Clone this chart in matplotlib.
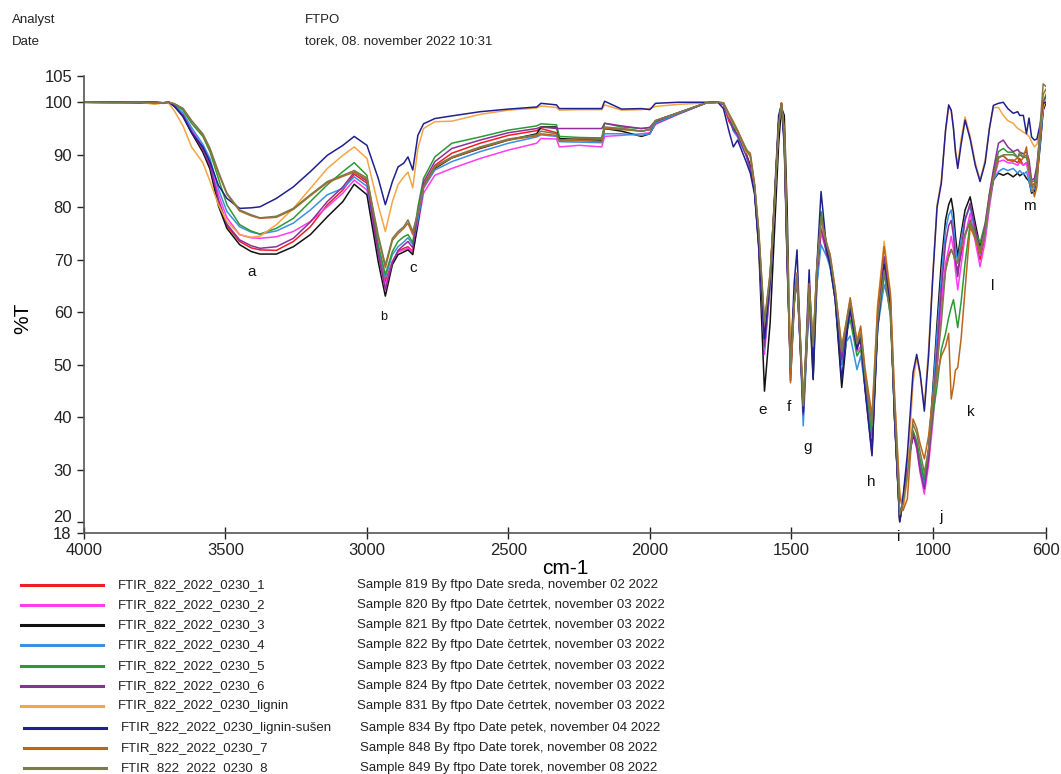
import matplotlib
matplotlib.use("Agg")
import matplotlib.pyplot as plt
from matplotlib.lines import Line2D
from matplotlib.transforms import ScaledTranslation

plt.rcParams['font.family'] = ['Liberation Sans', 'DejaVu Sans']

# ---------------- data ----------------
wavenumber = [
    4000, 3900, 3800, 3750, 3720, 3700, 3680, 3650, 3620, 3580,
    3555, 3525, 3495, 3450, 3410, 3378, 3320, 3260, 3200, 3140,
    3085, 3045, 3000, 2960, 2935, 2910, 2890, 2870, 2855, 2838,
    2820, 2800, 2760, 2700, 2600, 2500, 2400, 2385, 2330, 2320,
    2250, 2170, 2160, 2100, 2030, 2000, 1980, 1900, 1800, 1760,
    1740, 1720, 1705, 1690, 1660, 1645, 1630, 1615, 1595, 1575,
    1560, 1545, 1535, 1525, 1515, 1503, 1490, 1480, 1468, 1458,
    1448, 1437, 1423, 1410, 1395, 1375, 1363, 1345, 1322, 1305,
    1292, 1268, 1255, 1240, 1215, 1195, 1172, 1150, 1135, 1117,
    1105, 1090, 1070, 1057, 1045, 1030, 1015, 1000, 985, 970,
    955, 944, 935, 927, 920, 912, 900, 886, 868, 850,
    833, 815, 800, 786, 768, 751, 735, 716, 700, 693,
    680, 669, 660, 651, 641, 632, 620, 610, 600]

t_1 = [
    100, 100, 99.9, 100, 99.8, 100, 99.3, 97.5, 94.5, 91.0,
    87.8, 80.8, 76.5, 73.5, 72.3, 71.9, 71.8, 73.5, 76.3, 80.5,
    83.3, 86.3, 84.6, 71.5, 65.9, 69.7, 71.6, 72.2, 72.5, 71.6,
    78.0, 84.2, 88.0, 90.3, 92.2, 93.7, 94.6, 95.0, 94.2, 92.8,
    93.0, 93.2, 95.0, 95.0, 94.5, 94.8, 96.3, 97.9, 99.9, 100,
    99.5, 96.3, 95.0, 93.8, 90.2, 88.0, 83.5, 73.5, 54.5, 66.0,
    80.5, 96.0, 99.8, 92.8, 70.6, 48.5, 62.0, 66.8, 53.5, 41.2,
    52.0, 64.0, 53.0, 67.5, 75.7, 72.0, 70.0, 63.7, 52.0, 57.5,
    61.5, 53.5, 54.5, 47.0, 35.9, 59.0, 70.0, 62.5, 40.5, 20.6,
    24.5, 31.0, 37.1, 34.5, 30.5, 27.0, 32.5, 40.5, 50.0, 61.2,
    68.1, 71.0, 72.0, 71.0, 69.5, 68.1, 71.0, 74.5, 77.6, 74.0,
    70.0, 74.5, 81.0, 85.5, 89.6, 89.8, 89.0, 89.0, 88.5, 89.3,
    88.0, 88.5, 86.5, 84.2, 84.5, 87.0, 93.0, 99.0, 100.5]

t_2 = [
    100, 99.9, 100, 100, 99.9, 100, 99.4, 97.8, 94.8, 91.5,
    88.5, 82.5, 78.0, 74.8, 74.2, 74.1, 74.4, 75.4, 77.3, 80.1,
    82.7, 85.2, 83.3, 70.9, 65.0, 69.6, 71.5, 71.9, 72.2, 71.5,
    76.5, 82.7, 86.1, 87.4, 89.3, 90.9, 92.2, 93.1, 93.0, 91.5,
    91.8, 91.5, 93.5, 93.7, 94.0, 94.2, 95.8, 97.7, 99.9, 100,
    99.7, 97.0, 94.8, 93.5, 90.0, 87.7, 83.3, 73.0, 52.0, 65.0,
    80.0, 96.0, 99.8, 93.0, 71.0, 50.4, 62.5, 66.0, 53.0, 40.3,
    51.5, 63.0, 52.0, 66.5, 75.1, 71.5, 69.5, 63.0, 51.0, 56.5,
    60.0, 52.5, 53.5, 46.5, 35.2, 58.5, 69.4, 62.0, 40.0, 20.8,
    24.0, 30.5, 36.7, 34.0, 29.5, 25.4, 31.0, 39.0, 49.0, 61.8,
    69.4, 72.0, 74.5, 72.0, 68.0, 64.3, 69.0, 74.5, 78.9, 73.5,
    68.7, 73.5, 80.0, 85.0, 88.7, 89.0, 88.5, 88.4, 88.0, 88.6,
    88.0, 88.5, 86.0, 83.9, 84.0, 86.5, 92.5, 98.5, 100.0]

t_3 = [
    100, 100, 99.9, 100, 99.8, 100, 99.2, 97.3, 94.2, 90.5,
    87.3, 80.3, 76.0, 72.9, 71.6, 71.1, 71.1, 72.5, 74.8, 78.2,
    81.1, 84.4, 82.4, 69.6, 63.1, 69.1, 71.0, 71.5, 71.9, 71.0,
    77.0, 84.0, 87.4, 89.4, 91.2, 92.8, 94.0, 95.3, 95.3, 93.1,
    92.9, 92.8, 95.0, 94.5, 93.5, 94.0, 96.0, 97.8, 99.9, 100,
    99.7, 97.2, 95.0, 93.6, 90.2, 87.8, 83.2, 72.0, 45.0, 58.0,
    75.0, 92.0, 99.0, 97.5, 80.0, 47.0, 61.5, 66.5, 53.0, 41.3,
    50.5, 63.0, 47.2, 65.0, 77.6, 71.5, 69.0, 62.4, 45.7, 55.0,
    61.5, 53.5, 55.0, 46.0, 34.0, 57.5, 67.5, 61.5, 39.5, 20.1,
    24.0, 30.8, 36.5, 35.0, 31.0, 27.7, 34.0, 45.4, 58.0, 69.4,
    77.6, 80.5, 81.7, 79.0, 74.5, 70.6, 75.0, 79.5, 82.0, 77.0,
    72.5, 76.0, 81.5, 85.2, 86.5, 86.1, 86.5, 85.8, 86.5, 86.0,
    86.5, 85.5, 85.0, 82.7, 83.0, 85.5, 92.0, 98.5, 100.0]

t_4 = [
    100, 100, 100, 99.9, 99.9, 100, 99.4, 98.0, 95.2, 92.0,
    89.3, 83.5, 79.2, 76.3, 75.3, 74.9, 75.5, 77.0, 79.5, 82.4,
    83.6, 85.8, 84.0, 72.5, 66.6, 71.0, 72.5, 73.4, 74.2, 72.9,
    77.5, 83.6, 87.1, 88.7, 90.6, 92.2, 93.4, 93.8, 93.5, 92.5,
    92.4, 92.3, 94.0, 94.0, 93.7, 94.0, 96.0, 97.8, 99.9, 100,
    99.7, 97.0, 94.5, 93.4, 89.9, 87.1, 83.0, 73.0, 53.0, 65.0,
    80.0, 95.5, 99.6, 93.5, 71.0, 48.8, 62.5, 66.5, 52.5, 38.4,
    50.0, 62.5, 50.5, 65.0, 72.9, 70.6, 68.5, 62.5, 50.0, 54.5,
    55.5, 49.1, 51.7, 46.0, 36.0, 57.0, 65.3, 61.0, 40.0, 20.8,
    24.5, 31.0, 37.1, 35.0, 31.0, 27.0, 33.5, 44.5, 56.0, 66.8,
    75.7, 78.5, 79.5, 76.5, 72.5, 69.4, 74.0, 78.0, 80.1, 75.0,
    71.0, 75.0, 81.0, 85.2, 86.8, 87.4, 87.0, 87.4, 86.5, 87.0,
    86.2, 86.8, 85.0, 83.0, 83.5, 86.0, 92.5, 99.0, 100.5]

t_5 = [
    100, 99.9, 100, 100, 99.9, 100, 99.6, 98.5, 96.0, 93.5,
    90.6, 85.5, 80.5, 76.7, 75.5, 74.9, 76.0, 77.9, 81.1, 84.3,
    86.8, 88.5, 86.1, 72.8, 67.2, 71.6, 73.5, 74.4, 74.8, 73.3,
    80.0, 85.5, 89.6, 92.2, 93.4, 94.7, 95.5, 95.9, 95.7, 93.5,
    93.3, 93.2, 96.0, 95.3, 95.0, 95.2, 96.5, 98.0, 99.9, 100,
    99.8, 97.5, 95.3, 94.5, 91.2, 89.6, 84.0, 74.5, 55.8, 67.0,
    81.0, 96.0, 99.8, 93.0, 71.5, 50.0, 62.5, 67.0, 53.5, 41.6,
    52.0, 64.0, 53.0, 68.5, 79.2, 72.5, 70.0, 63.5, 52.0, 56.5,
    58.6, 51.7, 53.0, 47.0, 36.5, 57.5, 67.5, 59.3, 41.0, 21.0,
    24.5, 31.5, 37.5, 35.5, 32.0, 28.3, 33.0, 40.3, 46.0, 52.9,
    56.0, 59.0, 61.0, 62.4, 60.0, 57.1, 62.0, 69.4, 77.0, 75.5,
    73.2, 77.0, 82.5, 86.5, 90.6, 91.2, 90.5, 90.5, 89.5, 90.0,
    89.5, 89.5, 87.5, 84.9, 85.0, 87.5, 94.0, 100.0, 101.5]

t_6 = [
    100, 100, 99.9, 100, 99.8, 100, 99.2, 97.5, 94.5, 91.0,
    88.0, 81.5, 76.8, 73.8, 72.7, 72.2, 72.5, 74.1, 77.2, 81.1,
    83.9, 86.7, 85.0, 71.2, 64.3, 69.5, 71.8, 72.8, 73.5, 72.3,
    79.0, 84.8, 88.7, 91.2, 92.8, 94.2, 95.0, 95.3, 95.0, 95.0,
    95.0, 95.0, 96.0, 95.5, 95.0, 95.2, 96.5, 98.0, 99.9, 100,
    99.7, 97.0, 94.8, 93.8, 90.0, 87.5, 83.2, 73.0, 53.5, 65.5,
    80.5, 96.2, 99.9, 92.5, 70.5, 48.2, 62.5, 67.0, 53.0, 40.5,
    51.5, 64.0, 52.0, 67.0, 76.5, 71.0, 69.5, 63.0, 51.0, 57.0,
    60.5, 53.0, 55.5, 46.0, 33.0, 59.0, 70.6, 62.5, 40.0, 20.3,
    24.0, 30.5, 37.0, 34.5, 30.0, 26.4, 32.0, 41.5, 53.0, 64.3,
    73.2, 76.5, 77.5, 74.5, 70.0, 66.8, 72.0, 77.5, 80.8, 76.0,
    71.5, 76.5, 82.5, 87.1, 92.2, 92.8, 91.5, 90.6, 91.0, 90.5,
    90.2, 90.6, 89.0, 85.2, 85.5, 88.0, 94.5, 100.0, 101.0]

t_lignin = [
    100, 99.9, 100, 99.6, 99.9, 99.8, 98.3, 95.5, 91.5, 88.5,
    85.0, 80.5, 77.3, 74.8, 74.3, 74.5, 76.7, 79.8, 83.6, 87.4,
    89.9, 91.5, 89.3, 80.4, 75.4, 81.1, 84.3, 85.8, 86.7, 83.7,
    91.2, 95.0, 96.3, 96.4, 97.7, 98.5, 98.9, 99.3, 99.0, 98.5,
    98.6, 98.6, 99.5, 98.5, 98.6, 98.8, 99.2, 99.6, 99.9, 100,
    99.9, 97.3, 96.0, 94.5, 90.5, 89.8, 84.0, 74.8, 57.0, 67.5,
    81.0, 96.0, 99.7, 94.0, 72.0, 54.5, 62.0, 67.5, 55.0, 42.2,
    53.0, 66.0, 54.0, 68.5, 77.0, 73.0, 71.0, 64.5, 53.0, 58.5,
    62.5, 54.5, 57.0, 49.0, 39.5, 61.5, 73.5, 63.7, 44.0, 26.0,
    22.3, 28.5, 46.6, 51.4, 48.0, 42.2, 53.0, 67.5, 80.5, 85.0,
    94.5, 99.0, 98.5, 95.0, 91.0, 88.0, 93.0, 97.2, 93.5, 88.5,
    85.2, 89.0, 95.0, 99.0, 99.0, 97.5, 96.5, 96.0, 95.0, 94.8,
    94.3, 94.0, 93.5, 92.5, 91.5, 92.0, 95.0, 99.0, 100.5]

t_lignin_susen = [
    100, 100, 100, 100, 99.9, 100, 99.2, 97.3, 94.2, 91.5,
    88.7, 84.2, 81.7, 79.8, 79.9, 80.1, 81.7, 83.9, 86.8, 89.9,
    91.8, 93.5, 91.8, 85.5, 80.5, 84.9, 87.7, 88.4, 89.6, 87.1,
    93.7, 95.9, 96.9, 97.4, 98.2, 98.7, 99.1, 99.8, 99.5, 98.8,
    98.8, 98.8, 100.2, 98.7, 98.8, 98.6, 99.8, 100.0, 100.0, 100,
    98.8, 94.4, 91.5, 92.8, 88.7, 86.5, 82.5, 72.5, 55.0, 66.5,
    81.5, 97.5, 99.5, 91.5, 69.5, 49.1, 65.6, 71.9, 54.0, 41.0,
    54.0, 68.1, 47.5, 68.7, 83.0, 71.9, 69.0, 62.4, 47.2, 56.0,
    60.5, 53.0, 55.5, 45.5, 32.7, 57.0, 69.1, 61.2, 39.5, 20.2,
    25.0, 33.0, 48.5, 52.0, 48.5, 41.2, 51.7, 66.8, 80.0, 84.6,
    94.7, 99.5, 98.5, 95.0, 90.5, 87.4, 92.0, 96.6, 93.0, 88.0,
    84.9, 88.5, 95.0, 99.4, 99.8, 100.0, 98.8, 97.9, 98.2, 97.5,
    97.5, 94.0, 97.0, 93.4, 92.8, 93.0, 96.0, 99.8, 100.0]

t_7 = [
    100, 100, 99.9, 100, 99.9, 100, 99.7, 98.8, 96.5, 93.8,
    91.0, 86.5, 82.5, 79.3, 78.4, 77.9, 78.1, 79.6, 82.2, 84.7,
    85.9, 86.7, 85.3, 74.2, 68.5, 73.7, 75.0, 76.0, 77.0, 74.8,
    79.0, 83.8, 87.6, 89.4, 91.3, 92.8, 93.6, 94.0, 93.7, 92.6,
    92.7, 92.5, 95.0, 94.8, 94.5, 94.8, 96.5, 98.0, 99.9, 100,
    99.9, 97.8, 96.3, 94.7, 91.0, 90.3, 84.5, 75.5, 58.3, 67.5,
    80.5, 95.5, 99.9, 95.0, 74.0, 46.6, 61.5, 67.5, 55.0, 42.9,
    53.0, 65.5, 54.0, 68.5, 77.8, 73.2, 71.0, 64.5, 53.5, 58.5,
    62.8, 54.5, 57.4, 49.5, 40.3, 61.0, 72.5, 63.5, 44.0, 25.0,
    22.3, 24.5, 39.7, 38.0, 35.0, 32.1, 36.5, 44.1, 48.0, 51.7,
    53.5, 56.0, 43.5, 46.0, 49.0, 49.5, 55.0, 64.3, 76.3, 74.0,
    71.3, 75.5, 81.5, 85.8, 89.6, 89.8, 89.0, 88.7, 89.5, 88.5,
    89.5, 91.5, 87.0, 85.0, 82.0, 84.0, 95.0, 101.5, 102.5]

t_8 = [
    100, 99.9, 100, 99.8, 99.9, 100, 99.7, 98.8, 96.5, 94.0,
    91.3, 86.8, 82.7, 79.5, 78.6, 78.0, 78.3, 79.8, 82.4, 84.9,
    86.1, 87.0, 85.6, 74.7, 69.0, 74.1, 75.4, 76.3, 77.6, 75.4,
    79.0, 84.0, 87.8, 89.6, 91.5, 93.0, 93.8, 94.5, 94.0, 92.8,
    93.0, 93.0, 95.3, 95.0, 94.5, 94.8, 96.5, 98.0, 99.9, 100,
    99.9, 97.6, 96.0, 94.5, 90.8, 89.8, 84.2, 75.0, 58.0, 67.0,
    80.0, 95.5, 99.8, 94.0, 73.0, 49.5, 62.0, 67.3, 54.5, 42.2,
    52.5, 64.5, 53.5, 68.0, 78.2, 72.8, 70.5, 64.0, 52.5, 58.0,
    61.9, 54.0, 56.0, 48.0, 38.4, 58.5, 68.0, 59.5, 42.0, 21.5,
    23.5, 29.0, 38.7, 37.0, 33.5, 29.5, 34.0, 42.0, 50.0, 58.0,
    68.0, 70.5, 71.9, 71.0, 70.0, 69.4, 72.5, 75.0, 77.3, 74.5,
    71.9, 75.5, 81.0, 85.5, 89.3, 90.0, 90.0, 90.0, 89.5, 90.5,
    89.5, 90.0, 87.5, 83.9, 84.0, 87.0, 96.0, 103.5, 103.0]

series_names = ["FTIR_822_2022_0230_1", "FTIR_822_2022_0230_2", "FTIR_822_2022_0230_3",
                "FTIR_822_2022_0230_4", "FTIR_822_2022_0230_5", "FTIR_822_2022_0230_6",
                "FTIR_822_2022_0230_lignin", "FTIR_822_2022_0230_lignin-sušen",
                "FTIR_822_2022_0230_7", "FTIR_822_2022_0230_8"]
series_desc = ["Sample 819 By ftpo Date sreda, november 02 2022",
               "Sample 820 By ftpo Date četrtek, november 03 2022",
               "Sample 821 By ftpo Date četrtek, november 03 2022",
               "Sample 822 By ftpo Date četrtek, november 03 2022",
               "Sample 823 By ftpo Date četrtek, november 03 2022",
               "Sample 824 By ftpo Date četrtek, november 03 2022",
               "Sample 831 By ftpo Date četrtek, november 03 2022",
               "Sample 834 By ftpo Date petek, november 04 2022",
               "Sample 848 By ftpo Date torek, november 08 2022",
               "Sample 849 By ftpo Date torek, november 08 2022"]
series_vals = [t_1, t_2, t_3, t_4, t_5, t_6, t_lignin, t_lignin_susen, t_7, t_8]

peak_labels = ["a", "b", "c", "e", "f", "g", "h", "i", "j", "k", "l", "m"]
peak_x = [3406, 2940, 2837, 1603, 1508, 1441, 1218, 1119, 971, 865, 787, 660]
peak_y = [67.6, 59.2, 68.4, 41.5, 41.9, 34.3, 27.8, 17.3, 21.1, 41.0, 65.1, 80.2]

x_ticks = [4000, 3500, 3000, 2500, 2000, 1500, 1000, 600]
y_ticks = [18, 20, 30, 40, 50, 60, 70, 80, 90, 100, 105]

# ---------------- styling ----------------
colors = ["#ee1c25", "#ff3cf0", "#111111", "#3a90e5", "#2b9a35",
          "#8d2f98", "#f6a544", "#20208e", "#b9661d", "#7a7a4c"]

W, H = 1061, 774
fig = plt.figure(figsize=(W / 100, H / 100), dpi=100)
ax = fig.add_axes([84 / W, 1 - 533 / H, (1046 - 84) / W, (533 - 76) / H])

for vals, col in zip(series_vals, colors):
    assert len(vals) == len(wavenumber)
    ax.plot(wavenumber, vals, color=col, lw=1.1, solid_joinstyle='round')

ax.set_xlim(4000, 600)
ax.set_ylim(18, 105)
ax.set_xticks(x_ticks)
ax.set_yticks(y_ticks)
ax.tick_params(axis='both', labelsize=12, colors='#222222', length=5, width=1)
ax.tick_params(axis='x', direction='inout', length=8, pad=3)
for side in ['top', 'right']:
    ax.spines[side].set_visible(False)
for side in ['left', 'bottom']:
    ax.spines[side].set_color('#555555')
    ax.spines[side].set_linewidth(1.2)

# separate the crowded "18" and "20" labels slightly, as in the reference
yt = ax.yaxis.get_major_ticks()
yt[0].label1.set_transform(yt[0].label1.get_transform() +
                           ScaledTranslation(-1 / 100, 0, fig.dpi_scale_trans))
yt[1].label1.set_transform(yt[1].label1.get_transform() +
                           ScaledTranslation(0, 6 / 100, fig.dpi_scale_trans))

ax.set_xlabel("cm-1", fontsize=15, labelpad=1)
ax.set_ylabel("%T", fontsize=15)
ax.yaxis.set_label_coords(-52 / 962, 0.47)

for lab, lx, ly in zip(peak_labels, peak_x, peak_y):
    ax.text(lx, ly, lab, fontsize=9 if lab == "b" else 11, ha='center', va='center',
            color='#111111', clip_on=False)

# header
fig.text(12 / W, 1 - 20 / H, "Analyst", fontsize=9.5, va='center', color='#222222')
fig.text(12 / W, 1 - 42 / H, "Date", fontsize=9.5, va='center', color='#222222')
fig.text(305 / W, 1 - 20 / H, "FTPO", fontsize=9.5, va='center', color='#222222')
fig.text(305 / W, 1 - 42 / H, "torek, 08. november 2022 10:31", fontsize=9.5,
         va='center', color='#222222')

# legend block below the plot
row_y = [585, 605, 625, 645, 666, 686, 706, 728, 748, 768]
for k, (nm, ds, col) in enumerate(zip(series_names, series_desc, colors)):
    y = 1 - row_y[k] / H
    shift = 0 if k < 7 else 3
    fig.add_artist(Line2D([(21 + shift) / W, (103 + shift) / W], [y, y],
                          color=col, lw=2.2, transform=fig.transFigure))
    fig.text((118 + shift) / W, y, nm, fontsize=9.5, va='center', color='#222222')
    fig.text((357 + shift) / W, y, ds, fontsize=9.5, va='center', color='#222222')

fig.savefig("out.png", dpi=100)
